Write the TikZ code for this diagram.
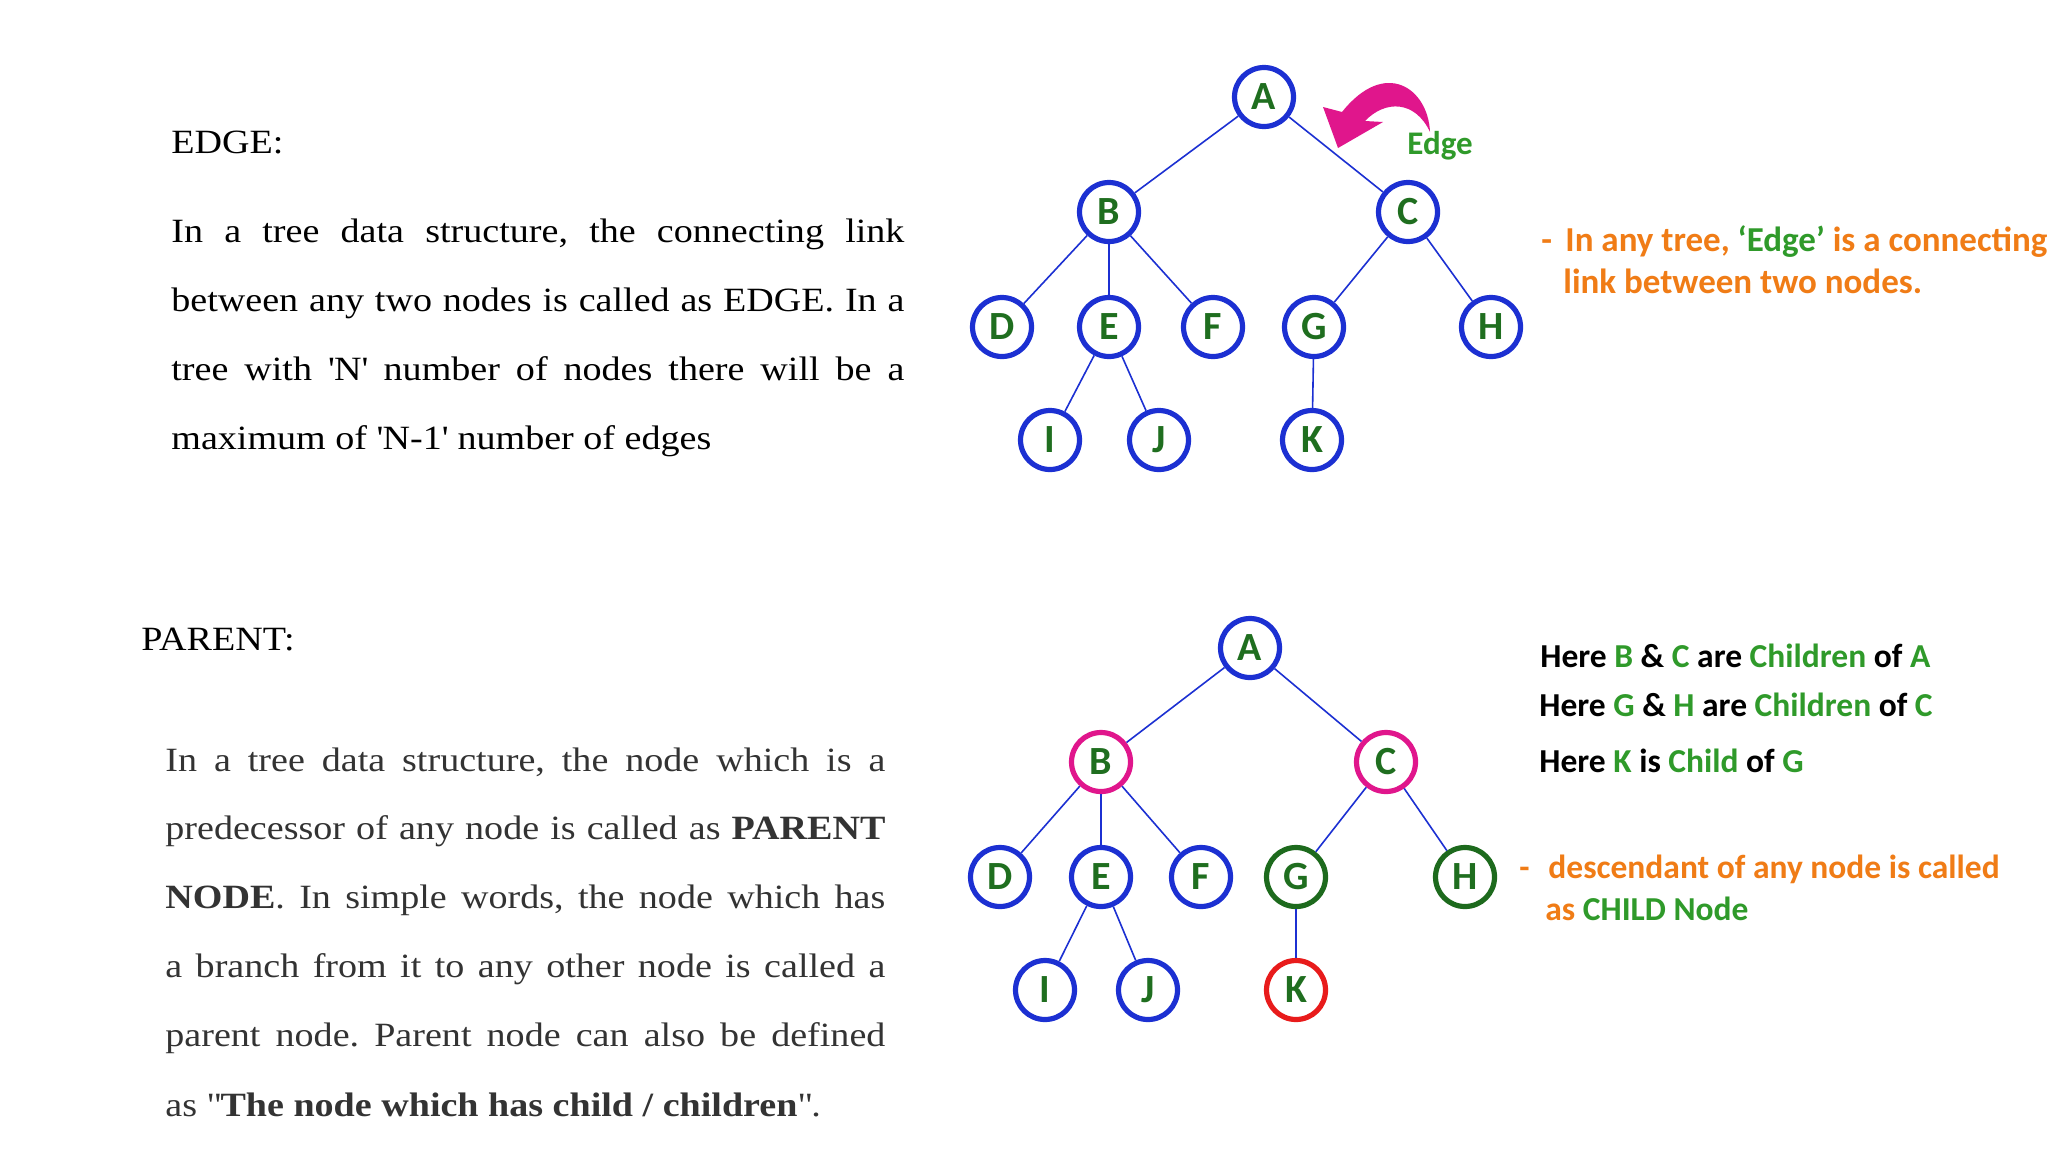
\documentclass[tikz,border=0pt]{standalone}
\usepackage{fontspec}
\setmainfont{Liberation Serif}[FakeStretch=1.12]
\newfontfamily\calib{Carlito}
\definecolor{nblue}{HTML}{1C30D2}
\definecolor{lgrn}{HTML}{1F6E1F}
\definecolor{tgrn}{HTML}{2F9A2A}
\definecolor{orng}{HTML}{F07C16}
\definecolor{mag}{HTML}{E0168C}
\definecolor{dgrn}{HTML}{1D6A1D}
\definecolor{kred}{HTML}{E81B1B}
\definecolor{dgray}{HTML}{333333}
\newcommand{\G}[1]{\textcolor{tgrn}{#1}}
\frenchspacing
\begin{document}
\begin{tikzpicture}[x=0.5pt,y=-0.5pt,
  tn/.style={circle, draw=nblue, line width=2.6pt, minimum size=29.5pt, inner sep=0pt,
    text=lgrn, font=\calib\bfseries\fontsize{20}{22}\selectfont},
  magring/.style={draw=mag},
  grnring/.style={draw=dgrn},
  redring/.style={draw=kred},
  link/.style={draw=nblue, line width=0.8pt},
  lt/.style={anchor=base west, inner sep=0pt, font=\fontsize{17}{20}\selectfont},
  rt/.style={anchor=base west, inner sep=0pt, font=\calib\bfseries\fontsize{17.5}{21}\selectfont},
  rtb/.style={rt, font=\calib\bfseries\fontsize{16.75}{20}\selectfont}]
\useasboundingbox[fill=white] (0,0) rectangle (2048,1152);

% ---------- top left text ----------
\node[lt] (h1) at (171,153) {EDGE:};
\node[lt] (p11) at (171,242) {\makebox[366.5pt][s]{In a tree data structure, the connecting link}};
\node[lt] (p12) at (171,311) {\makebox[366.5pt][s]{between any two nodes is called as EDGE. In a}};
\node[lt] (p13) at (171,380) {\makebox[366.5pt][s]{tree with \textquotesingle N\textquotesingle\ number of nodes there will be a}};
\node[lt] (p14) at (171,449) {maximum of \textquotesingle N-1\textquotesingle\ number of edges};

% ---------- bottom left text ----------
\node[lt] (h2) at (141,650) {PARENT:};
\begin{scope}[every node/.append style={text=dgray}]
\node[lt] (p21) at (165,771) {\makebox[360pt][s]{In a tree data structure, the node which is a}};
\node[lt] (p22) at (165,839) {\makebox[360pt][s]{predecessor of any node is called as \textbf{PARENT}}};
\node[lt] (p23) at (165,908) {\makebox[360pt][s]{\textbf{NODE}. In simple words, the node which has}};
\node[lt] (p24) at (165,977) {\makebox[360pt][s]{a branch from it to any other node is called a}};
\node[lt] (p25) at (165,1046) {\makebox[360pt][s]{parent node. Parent node can also be defined}};
\node[lt] (p26) at (165,1116) {as \textquotedbl\textbf{The node which has child / children}\textquotedbl.};
\end{scope}

% ---------- top tree ----------
\node[tn] (A1) at (1264,97) {A};
\node[tn] (B1) at (1109,212) {B};
\node[tn] (C1) at (1408,212) {C};
\node[tn] (D1) at (1002,327) {D};
\node[tn] (E1) at (1109,327) {E};
\node[tn] (F1) at (1213,327) {F};
\node[tn] (G1) at (1314,327) {G};
\node[tn] (H1) at (1491,327) {H};
\node[tn] (I1) at (1050,440) {I};
\node[tn] (J1) at (1159,440) {J};
\node[tn] (K1) at (1312,440) {K};
\draw[link] (A1) -- (B1);
\draw[link] (A1) -- (C1);
\draw[link] (B1) -- (D1);
\draw[link] (B1) -- (E1);
\draw[link] (B1) -- (F1);
\draw[link] (C1) -- (G1);
\draw[link] (C1) -- (H1);
\draw[link] (E1) -- (I1);
\draw[link] (E1) -- (J1);
\draw[link] (G1) -- (K1);

% edge arrow
\fill[mag] (1430,132) .. controls (1428,88) and (1385,58) .. (1342,112)
  -- (1323,107) -- (1338,148) -- (1383,122) -- (1365,121)
  .. controls (1385,100) and (1415,100) .. (1430,132) -- cycle;
\node[anchor=base, inner sep=0pt, text=tgrn, font=\calib\bfseries\fontsize{16.5}{19}\selectfont] (elbl) at (1440,154) {Edge};

% top right text
\node[rt, text=orng] (d1) at (1541,251) {-};
\node[rt, text=orng] (t1) at (1565,251) {In any tree, \G{‘Edge’} is a connecting};
\node[rt, text=orng] (t2) at (1563,293) {link between two nodes.};

% ---------- bottom tree ----------
\node[tn] (A2) at (1250,648) {A};
\node[tn, magring] (B2) at (1101,762) {B};
\node[tn, magring] (C2) at (1386,762) {C};
\node[tn] (D2) at (1000,877) {D};
\node[tn] (E2) at (1101,877) {E};
\node[tn] (F2) at (1201,877) {F};
\node[tn, grnring] (G2) at (1296,877) {G};
\node[tn, grnring] (H2) at (1465,877) {H};
\node[tn] (I2) at (1045,990) {I};
\node[tn] (J2) at (1148,990) {J};
\node[tn, redring] (K2) at (1296,990) {K};
\draw[link] (A2) -- (B2);
\draw[link] (A2) -- (C2);
\draw[link] (B2) -- (D2);
\draw[link] (B2) -- (E2);
\draw[link] (B2) -- (F2);
\draw[link] (C2) -- (G2);
\draw[link] (C2) -- (H2);
\draw[link] (E2) -- (I2);
\draw[link] (E2) -- (J2);
\draw[link] (G2) -- (K2);

% bottom right text
\node[rtb] (r1) at (1540,667) {Here \G{B} \& \G{C} are \G{Children} of \G{A}};
\node[rtb] (r2) at (1539,716) {Here \G{G} \& \G{H} are \G{Children} of \G{C}};
\node[rtb] (r3) at (1539,772) {Here \G{K} is \G{Child} of \G{G}};
\node[rtb, text=orng] (d2) at (1519,878) {-};
\node[rtb, text=orng] (r4) at (1548,878) {descendant of any node is called};
\node[rtb, text=orng] (r5) at (1545,920) {as \G{CHILD Node}};
\end{tikzpicture}
\end{document}
